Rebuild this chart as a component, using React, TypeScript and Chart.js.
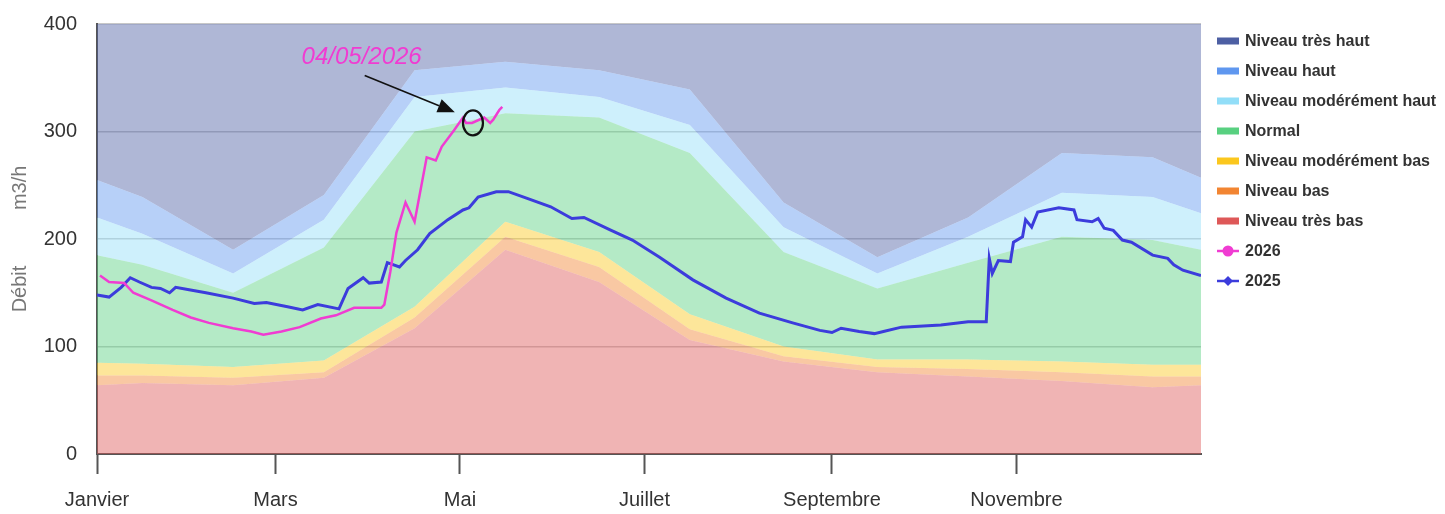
import React, { useEffect, useRef } from "react";
import { Chart, registerables } from "chart.js";

Chart.register(...registerables);

// ---------- Axis ----------
const monthTickDays = [0, 59, 120, 181, 243, 304];
const monthTickLabels = ["Janvier", "Mars", "Mai", "Juillet", "Septembre", "Novembre"];
const yTicks = [0, 100, 200, 300, 400];

// ---------- Reference bands (top boundary of each band, m3/h) ----------
const bandDays = [0, 15, 45, 75, 105, 135, 166, 196, 227, 258, 288, 319, 349, 365];
const tresBasTop = [64, 66, 64, 71, 117, 190, 160, 106, 86, 76, 72, 68, 62, 64];
const basTop = [73, 73, 71, 76, 127, 202, 174, 116, 91, 81, 79, 76, 72, 72];
const modBasTop = [85, 84, 81, 87, 137, 216, 188, 130, 100, 88, 88, 86, 83, 83];
const normalTop = [185, 176, 150, 192, 300, 317, 313, 280, 188, 154, 178, 202, 199, 190];
const modHautTop = [220, 205, 168, 218, 332, 341, 332, 306, 211, 168, 202, 243, 239, 224];
const hautTop = [255, 239, 190, 241, 357, 365, 357, 339, 234, 183, 220, 280, 276, 257];
const tresHautTop = [400, 400, 400, 400, 400, 400, 400, 400, 400, 400, 400, 400, 400, 400];

// ---------- Series ----------
const days2025 = [0, 4, 8, 11, 14, 18, 21, 24, 26, 30, 36, 45, 52, 56, 63, 68, 73, 80, 83, 88, 90, 94, 96, 100, 102, 106, 110, 116, 121, 123, 126, 132, 136, 142, 150, 157, 161, 170, 177, 186, 197, 208, 219, 230, 239, 243, 246, 252, 257, 260, 266, 279, 288, 294, 295, 296, 298, 302, 303, 306, 307, 309, 311, 318, 323, 324, 329, 331, 333, 336, 339, 342, 349, 354, 356, 359, 365];
const flow2025 = [148, 146, 155, 164, 160, 155, 154, 150, 155, 153, 150, 145, 140, 141, 137, 134, 139, 135, 154, 164, 159, 160, 178, 174, 180, 190, 205, 218, 227, 229, 239, 244, 244, 238, 230, 219, 220, 208, 199, 183, 162, 145, 131, 122, 115, 113, 117, 114, 112, 114, 118, 120, 123, 123, 182, 168, 180, 179, 197, 202, 218, 211, 225, 229, 227, 218, 216, 219, 210, 208, 199, 197, 185, 182, 176, 171, 166];

const days2026 = [1, 4, 9, 12, 18, 25, 31, 37, 45, 51, 55, 61, 67, 74, 79, 85, 94, 95, 97, 99, 102, 105, 109, 112, 114, 118, 121, 122, 124, 128, 130, 131, 133, 134];
const flow2026 = [166, 160, 159, 150, 143, 134, 127, 122, 117, 114, 111, 114, 118, 126, 129, 136, 136, 139, 170, 206, 234, 216, 276, 273, 286, 301, 313, 308, 308, 313, 308, 311, 320, 323];

// ---------- Annotation ----------
const annotationText = "04/05/2026";
const annotLabelDay = 87.5;
const annotLabelValue = 369;
const arrowFrom = [88.5, 352];
const arrowTo = [118.3, 318];
const circleAt = [124.3, 308];

// ---------- Styling ----------
const bandLabels = [
  "Niveau très bas",
  "Niveau bas",
  "Niveau modérément bas",
  "Normal",
  "Niveau modérément haut",
  "Niveau haut",
  "Niveau très haut",
];
const bandTops = [tresBasTop, basTop, modBasTop, normalTop, modHautTop, hautTop, tresHautTop];
const bandRGB = [
  [222, 88, 88],
  [242, 133, 50],
  [251, 199, 30],
  [88, 208, 128],
  [146, 222, 248],
  [95, 151, 239],
  [77, 95, 163],
];
const color2026 = "#f03cd2";
const color2025 = "#3c3cdc";
const FONT = "'Liberation Sans', Arial, sans-serif";

const toXY = (xs: number[], ys: number[]) => xs.map((x, i) => ({ x, y: ys[i] }));

const legendPlugin = {
  id: "sideLegend",
  afterDraw(chart: any) {
    const { ctx, chartArea } = chart;
    const x0 = chartArea.right + 16;
    let y = chartArea.top + 17;
    const order = [8, 7, 6, 5, 4, 3, 2, 0, 1];
    ctx.save();
    ctx.font = `bold 16px ${FONT}`;
    ctx.textBaseline = "middle";
    ctx.textAlign = "left";
    order.forEach((idx) => {
      const ds = chart.data.datasets[idx];
      if (idx >= 2) {
        ctx.fillStyle = ds.legendColor;
        ctx.fillRect(x0, y - 3.5, 22, 7);
      } else {
        ctx.strokeStyle = ds.borderColor;
        ctx.fillStyle = ds.borderColor;
        ctx.lineWidth = 2.5;
        ctx.beginPath();
        ctx.moveTo(x0, y);
        ctx.lineTo(x0 + 22, y);
        ctx.stroke();
        ctx.beginPath();
        if (idx === 0) {
          ctx.arc(x0 + 11, y, 5.5, 0, Math.PI * 2);
        } else {
          ctx.moveTo(x0 + 11, y - 5);
          ctx.lineTo(x0 + 16, y);
          ctx.lineTo(x0 + 11, y + 5);
          ctx.lineTo(x0 + 6, y);
          ctx.closePath();
        }
        ctx.fill();
      }
      ctx.fillStyle = "#333";
      ctx.fillText(ds.label, x0 + 28, y + 1);
      y += 30;
    });
    ctx.restore();
  },
};

const annotationPlugin = {
  id: "dateAnnotation",
  afterDatasetsDraw(chart: any) {
    const { ctx } = chart;
    const xs = chart.scales.x;
    const ys = chart.scales.y;
    ctx.save();
    ctx.font = `italic 24px ${FONT}`;
    ctx.fillStyle = color2026;
    ctx.textAlign = "center";
    ctx.textBaseline = "middle";
    ctx.fillText(annotationText, xs.getPixelForValue(annotLabelDay), ys.getPixelForValue(annotLabelValue));

    const x1 = xs.getPixelForValue(arrowFrom[0]);
    const y1 = ys.getPixelForValue(arrowFrom[1]);
    const x2 = xs.getPixelForValue(arrowTo[0]);
    const y2 = ys.getPixelForValue(arrowTo[1]);
    const ang = Math.atan2(y2 - y1, x2 - x1);
    const head = 17;
    const hw = 7;
    const bx = x2 - head * Math.cos(ang);
    const by = y2 - head * Math.sin(ang);
    ctx.strokeStyle = "#111";
    ctx.fillStyle = "#111";
    ctx.lineWidth = 1.6;
    ctx.beginPath();
    ctx.moveTo(x1, y1);
    ctx.lineTo(bx, by);
    ctx.stroke();
    ctx.beginPath();
    ctx.moveTo(x2, y2);
    ctx.lineTo(bx + hw * Math.sin(ang), by - hw * Math.cos(ang));
    ctx.lineTo(bx - hw * Math.sin(ang), by + hw * Math.cos(ang));
    ctx.closePath();
    ctx.fill();

    ctx.lineWidth = 2.2;
    ctx.beginPath();
    ctx.ellipse(xs.getPixelForValue(circleAt[0]), ys.getPixelForValue(circleAt[1]), 10, 12.5, 0, 0, Math.PI * 2);
    ctx.stroke();
    ctx.restore();
  },
};

export default function App() {
  const canvasRef = useRef<HTMLCanvasElement | null>(null);

  useEffect(() => {
    if (!canvasRef.current) return;
    const bandDatasets = bandLabels.map((label, i) => ({
      type: "line",
      label,
      data: toXY(bandDays, bandTops[i]),
      borderWidth: 0,
      pointRadius: 0,
      fill: i === 0 ? "origin" : "-1",
      backgroundColor: `rgba(${bandRGB[i].join(",")},0.45)`,
      borderColor: "rgba(0,0,0,0)",
      legendColor: `rgb(${bandRGB[i].join(",")})`,
      tension: 0,
    }));

    const chart = new Chart(canvasRef.current, {
      type: "line",
      data: {
        datasets: [
          {
            label: "2026",
            data: toXY(days2026, flow2026),
            borderColor: color2026,
            backgroundColor: color2026,
            borderWidth: 2.5,
            pointRadius: 0,
            fill: false,
            tension: 0,
          },
          {
            label: "2025",
            data: toXY(days2025, flow2025),
            borderColor: color2025,
            backgroundColor: color2025,
            borderWidth: 3,
            pointRadius: 0,
            fill: false,
            tension: 0,
          },
          ...bandDatasets,
        ] as any,
      },
      options: {
        animation: false,
        responsive: true,
        maintainAspectRatio: false,
        layout: { padding: { left: 0, right: 244, top: 24, bottom: 0 } },
        plugins: {
          legend: { display: false },
          tooltip: { enabled: false },
        },
        scales: {
          x: {
            type: "linear",
            min: 0,
            max: 365,
            afterBuildTicks: (s: any) => {
              s.ticks = monthTickDays.map((v) => ({ value: v }));
            },
            afterFit: (s: any) => {
              s.height = 60;
            },
            ticks: {
              autoSkip: false,
              maxRotation: 0,
              padding: 14,
              color: "#333",
              font: { family: FONT, size: 20 },
              callback: (v: any) => {
                const i = monthTickDays.indexOf(Number(v));
                return i >= 0 ? monthTickLabels[i] : "";
              },
            },
            grid: {
              drawOnChartArea: false,
              drawTicks: true,
              tickLength: 20,
              tickColor: "#555",
              tickWidth: 2,
            },
            border: { display: true, color: "#555", width: 2 },
          },
          y: {
            min: 0,
            max: 400,
            afterBuildTicks: (s: any) => {
              s.ticks = yTicks.map((v) => ({ value: v }));
            },
            afterFit: (s: any) => {
              s.width = 97;
            },
            ticks: {
              padding: 0,
              color: "#333",
              font: { family: FONT, size: 20 },
            },
            grid: {
              color: "rgba(0,0,0,0.22)",
              lineWidth: 1.5,
              drawTicks: true,
              tickLength: 20,
              tickColor: "rgba(0,0,0,0)",
            },
            border: { display: true, color: "#555", width: 2 },
            title: {
              display: true,
              text: "Débit          m3/h",
              color: "#777",
              font: { family: FONT, size: 20 },
              padding: { top: 8, bottom: 0 },
            },
          },
        },
      } as any,
      plugins: [annotationPlugin, legendPlugin],
    });
    return () => chart.destroy();
  }, []);

  return (
    <div style={{ position: "fixed", left: 0, top: 0, width: 1445, height: 514, background: "#fff" }}>
      <canvas ref={canvasRef} />
    </div>
  );
}
